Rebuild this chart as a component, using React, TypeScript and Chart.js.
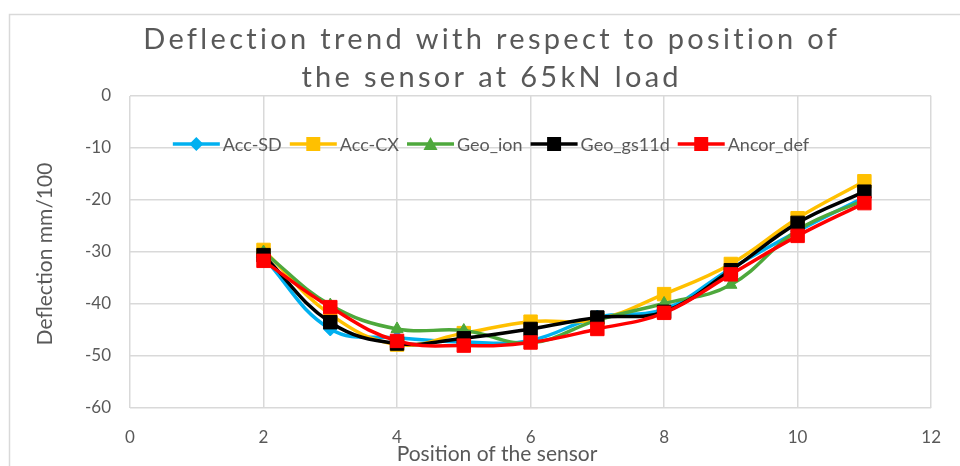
import React, { useEffect, useRef } from "react";
import { Chart, registerables } from "chart.js";

Chart.register(...registerables);

const TITLE_LINES = ["Deflection trend with respect to position of", "the sensor at 65kN load"];
const X_TITLE = "Position of the sensor";
const Y_TITLE = "Deflection mm/100";

const positions = [2, 3, 4, 5, 6, 7, 8, 9, 10, 11];
const seriesNames = ["Acc-SD", "Acc-CX", "Geo_ion", "Geo_gs11d", "Ancor_def"];
const accSD = [-31, -44.8, -46.5, -47.3, -47, -42.5, -41, -33.2, -26, -19.5];
const accCX = [-29.6, -42, -47.8, -45.6, -43.4, -43, -38.1, -32.3, -23.5, -16.4];
const geoIon = [-30, -40.2, -44.8, -45.1, -47.5, -43.1, -39.9, -36.3, -25.8, -20];
const geoGs11d = [-30.6, -43.5, -47.6, -46.6, -44.8, -42.6, -41.5, -33.5, -24.4, -18.4];
const ancorDef = [-31.7, -40.6, -47.1, -48, -47.4, -44.8, -41.7, -34.3, -26.9, -20.6];

const seriesValues = [accSD, accCX, geoIon, geoGs11d, ancorDef];
const seriesColors = ["#00B0F0", "#FFC000", "#4EA83C", "#000000", "#FF0000"];
const seriesMarkers = ["rectRot", "rect", "triangle", "rect", "rect"];

const TEXT = "#595959";
const GRID = "#d9d9d9";
const FONT = "Lato, 'Liberation Sans', sans-serif";

function drawMarker(ctx: CanvasRenderingContext2D, style: string, x: number, y: number, color: string) {
  ctx.save();
  ctx.fillStyle = color;
  ctx.beginPath();
  if (style === "rect") {
    ctx.rect(x - 7, y - 7, 14, 14);
  } else if (style === "rectRot") {
    ctx.moveTo(x, y - 7);
    ctx.lineTo(x + 7, y);
    ctx.lineTo(x, y + 7);
    ctx.lineTo(x - 7, y);
    ctx.closePath();
  } else {
    ctx.moveTo(x, y - 7);
    ctx.lineTo(x + 7, y + 6);
    ctx.lineTo(x - 7, y + 6);
    ctx.closePath();
  }
  ctx.fill();
  ctx.restore();
}

const decorPlugin = {
  id: "decor",
  afterDraw(chart: any) {
    const ctx: CanvasRenderingContext2D = chart.ctx;
    const area = chart.chartArea;
    ctx.save();
    // outer frame
    ctx.strokeStyle = GRID;
    ctx.lineWidth = 1.5;
    ctx.beginPath();
    ctx.moveTo(9.5, 466);
    ctx.lineTo(9.5, 14.5);
    ctx.lineTo(960, 14.5);
    ctx.stroke();

    // title
    ctx.fillStyle = TEXT;
    ctx.textBaseline = "middle";
    ctx.textAlign = "center";
    ctx.font = `29px ${FONT}`;
    const titleCx = 490;
    const base = ctx.measureText(TITLE_LINES[0]).width;
    const spacing = Math.max(0, (698 - base) / TITLE_LINES[0].length);
    (ctx as any).letterSpacing = `${spacing}px`;
    ctx.fillText(TITLE_LINES[0], titleCx + spacing / 2, 40);
    ctx.fillText(TITLE_LINES[1], titleCx + spacing / 2, 78);
    (ctx as any).letterSpacing = "0px";

    // axis titles
    ctx.font = `21px ${FONT}`;
    ctx.fillText(X_TITLE, 497, 454);
    ctx.save();
    ctx.translate(45, 254);
    ctx.rotate(-Math.PI / 2);
    ctx.fillText(Y_TITLE, 0, 0);
    ctx.restore();

    // legend inside plot
    ctx.font = `18px ${FONT}`;
    ctx.textAlign = "left";
    const lineLen = 47;
    const gapText = 3;
    const gapItem = 8;
    const widths = seriesNames.map((n) => ctx.measureText(n).width);
    const total = widths.reduce((a, w) => a + lineLen + gapText + w, 0) + gapItem * (seriesNames.length - 1);
    let x = 491 - total / 2;
    const y = area.top + 48;
    seriesNames.forEach((name, i) => {
      ctx.strokeStyle = seriesColors[i];
      ctx.lineWidth = 3.5;
      ctx.beginPath();
      ctx.moveTo(x, y);
      ctx.lineTo(x + lineLen, y);
      ctx.stroke();
      drawMarker(ctx, seriesMarkers[i], x + lineLen / 2, y, seriesColors[i]);
      ctx.fillStyle = TEXT;
      ctx.fillText(name, x + lineLen + gapText, y + 1);
      x += lineLen + gapText + widths[i] + gapItem;
    });
    ctx.restore();
  },
};

export default function App() {
  const ref = useRef<HTMLCanvasElement>(null);
  useEffect(() => {
    if (!ref.current) return;
    const datasets = seriesNames.map((name, i) => ({
      label: name,
      data: positions.map((p, j) => ({ x: p, y: seriesValues[i][j] })),
      borderColor: seriesColors[i],
      backgroundColor: seriesColors[i],
      borderWidth: 3.5,
      pointStyle: seriesMarkers[i],
      pointRadius: seriesMarkers[i] === "rect" ? 9.5 : 7,
      pointBorderWidth: 1,
      showLine: true,
      tension: 0.4,
      order: seriesNames.length - i,
    }));
    const chart = new Chart(ref.current, {
      type: "scatter",
      data: { datasets },
      plugins: [decorPlugin],
      options: {
        animation: false,
        responsive: false,
        maintainAspectRatio: false,
        layout: { padding: { left: 0, top: 96, right: 28, bottom: 0 } },
        plugins: { legend: { display: false }, title: { display: false }, tooltip: { enabled: false } },
        scales: {
          x: {
            type: "linear",
            min: 0,
            max: 12,
            ticks: { stepSize: 2, color: TEXT, font: { family: FONT, size: 17 }, padding: 19 },
            grid: { color: GRID, lineWidth: 1.5, drawTicks: false },
            border: { display: false },
            afterFit: (s: any) => {
              s.height = 58;
            },
          },
          y: {
            min: -60,
            max: 0,
            ticks: { stepSize: 10, color: TEXT, font: { family: FONT, size: 17 }, padding: 19 },
            grid: { color: GRID, lineWidth: 1.5, drawTicks: false },
            border: { display: false },
            afterFit: (s: any) => {
              s.width = 130;
            },
          },
        },
      },
    } as any);
    return () => chart.destroy();
  }, []);
  return (
    <div style={{ position: "absolute", left: 0, top: 0, width: 960, height: 466, background: "#fff" }}>
      <canvas ref={ref} width={960} height={466} style={{ display: "block" }} />
    </div>
  );
}
